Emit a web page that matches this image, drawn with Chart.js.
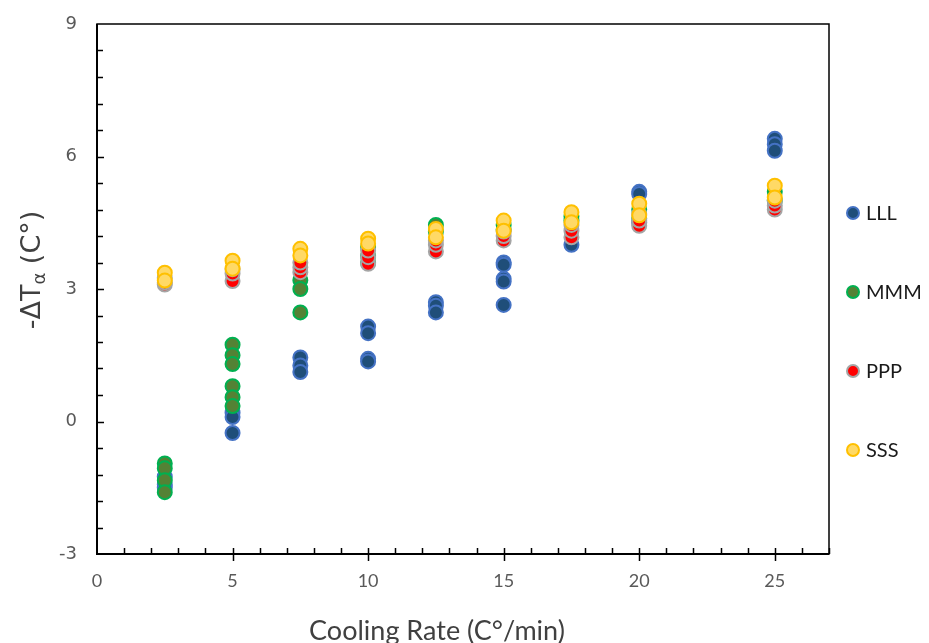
<!DOCTYPE html>
<html>
<head>
<meta charset="utf-8">
<title>Cooling rate scatter</title>
<script src="https://cdn.jsdelivr.net/npm/chart.js@4.4.0/dist/chart.umd.min.js"></script>
<style>
    html, body { margin: 0; padding: 0; background: #fff; }
    #chart { display: block; }
</style>
</head>
<body>
<canvas id="chart" width="929" height="643"></canvas>
<script>
// Values
const seriesNames = ['LLL', 'MMM', 'PPP', 'SSS'];

const lllX = [2.5, 2.5, 2.5, 5, 5, 5, 7.5, 7.5, 7.5, 10, 10, 10, 10, 12.5, 12.5, 12.5, 15, 15, 15, 15, 15, 17.5, 20, 20, 20, 25, 25, 25];
const lllY = [-1.25, -1.42, -1.5, 0.2, 0.1, -0.26, 1.45, 1.27, 1.12, 2.15, 2.0, 1.42, 1.36, 2.7, 2.62, 2.47, 3.6, 3.55, 3.23, 3.17, 2.64, 4.0, 5.2, 5.15, 4.5, 6.4, 6.28, 6.13];

const mmmX = [2.5, 2.5, 2.5, 2.5, 5, 5, 5, 5, 5, 5, 7.5, 7.5, 7.5, 10, 10, 10, 12.5, 12.5, 15, 15, 17.5, 17.5, 20, 20, 25, 25];
const mmmY = [-0.95, -1.06, -1.33, -1.6, 1.74, 1.5, 1.3, 0.8, 0.55, 0.35, 3.2, 3.0, 2.47, 3.6, 3.75, 3.95, 4.45, 4.3, 4.45, 4.35, 4.65, 4.55, 4.8, 4.6, 5.2, 5.0];

const pppX = [2.5, 2.5, 2.5, 5, 5, 5, 7.5, 7.5, 7.5, 10, 10, 10, 12.5, 12.5, 12.5, 15, 15, 15, 17.5, 17.5, 17.5, 20, 20, 20, 25, 25, 25];
const pppY = [3.1, 3.15, 3.25, 3.18, 3.35, 3.45, 3.38, 3.49, 3.6, 3.57, 3.72, 3.87, 3.85, 4.0, 4.1, 4.1, 4.2, 4.3, 4.17, 4.32, 4.45, 4.43, 4.55, 4.7, 4.8, 4.89, 5.0];

const sssX = [2.5, 2.5, 5, 5, 7.5, 7.5, 10, 10, 12.5, 12.5, 15, 15, 17.5, 17.5, 20, 20, 25, 25];
const sssY = [3.37, 3.19, 3.64, 3.46, 3.91, 3.76, 4.14, 4.03, 4.36, 4.17, 4.55, 4.32, 4.74, 4.51, 4.93, 4.67, 5.34, 5.07];

const xTicks = [0, 5, 10, 15, 20, 25];
const yTicks = [-3, 0, 3, 6, 9];

function toPoints(xs, ys) {
    return xs.map((x, i) => ({ x: x, y: ys[i] }));
}

// Excel-like marker colours: fill / outline
const fills = ['#1F4E79', '#548235', '#FF0000', '#FFD966'];
const outlines = ['#4472C4', '#00B050', '#A5A5A5', '#FFC000'];
const allX = [lllX, mmmX, pppX, sssX];
const allY = [lllY, mmmY, pppY, sssY];

const datasets = seriesNames.map((name, i) => ({
    label: name,
    data: toPoints(allX[i], allY[i]),
    backgroundColor: fills[i],
    borderColor: outlines[i],
    borderWidth: 2,
    pointRadius: 7,
    pointHoverRadius: 7,
    order: seriesNames.length - i   // last series drawn on top
}));

// Frame, minor/major tick marks, axis titles, legend
const decorations = {
    id: 'decorations',
    afterDraw(chart) {
        const ctx = chart.ctx;
        const area = chart.chartArea;
        const xs = chart.scales.x;
        const ys = chart.scales.y;
        ctx.save();

        // plot frame
        ctx.strokeStyle = '#000';
        ctx.lineWidth = 1.5;
        ctx.strokeRect(area.left, area.top, area.right - area.left, area.bottom - area.top);
        ctx.lineWidth = 2;
        ctx.beginPath();
        ctx.moveTo(area.left, area.top);
        ctx.lineTo(area.left, area.bottom);
        ctx.lineTo(area.right, area.bottom);
        ctx.stroke();

        // x ticks: minor inside every 1, major crossing every 5
        ctx.lineWidth = 1.5;
        ctx.beginPath();
        for (let v = 1; v <= xs.max; v++) {
            const px = Math.round(xs.getPixelForValue(v)) + 0.5;
            const major = v % 5 === 0;
            ctx.moveTo(px, area.bottom - 6);
            ctx.lineTo(px, area.bottom + (major ? 7 : 0));
        }
        // y ticks: inside every 0.6
        for (let k = 1; k < 20; k++) {
            const v = ys.min + k * 0.6;
            const py = Math.round(ys.getPixelForValue(v)) + 0.5;
            const major = k % 5 === 0;
            ctx.moveTo(area.left, py);
            ctx.lineTo(area.left + (major ? 7 : 6), py);
        }
        ctx.stroke();

        // x axis title
        ctx.fillStyle = '#404040';
        ctx.font = '27px Lato';
        ctx.textAlign = 'center';
        ctx.textBaseline = 'middle';
        ctx.fillText('Cooling Rate (C°/min)', 437, 631);

        // y axis title: -ΔTα (C°)
        ctx.textAlign = 'left';
        ctx.translate(31, 270);
        ctx.rotate(-Math.PI / 2);
        ctx.textBaseline = 'alphabetic';
        const bigFont = '27px "DejaVu Sans"';
        const smallFont = '18px "DejaVu Sans"';
        ctx.font = bigFont;
        const w1 = ctx.measureText('-ΔT').width;
        const w3 = ctx.measureText(' (C°)').width;
        ctx.font = smallFont;
        const w2 = ctx.measureText('α').width;
        let tx = -(w1 + w2 + w3) / 2;
        ctx.font = bigFont;
        ctx.fillText('-ΔT', tx, 9);
        tx += w1;
        ctx.font = smallFont;
        ctx.fillText('α', tx, 14);
        tx += w2;
        ctx.font = bigFont;
        ctx.fillText(' (C°)', tx, 9);
        ctx.restore();

        // legend on the right
        ctx.save();
        chart.data.datasets.forEach((ds, i) => {
            const cy = 213 + 79 * i;
            ctx.beginPath();
            ctx.arc(853, cy, 6, 0, Math.PI * 2);
            ctx.fillStyle = ds.backgroundColor;
            ctx.fill();
            ctx.lineWidth = 2;
            ctx.strokeStyle = ds.borderColor;
            ctx.stroke();
            ctx.fillStyle = '#1a1a1a';
            ctx.font = '20px Lato';
            ctx.textBaseline = 'middle';
            ctx.fillText(ds.label, 866, cy + 1);
        });
        ctx.restore();
    }
};

new Chart(document.getElementById('chart'), {
    type: 'scatter',
    data: { datasets: datasets },
    options: {
        responsive: false,
        animation: false,
        devicePixelRatio: 1,
        layout: { padding: { top: 24, right: 100, left: 0, bottom: 0 } },
        plugins: {
            legend: { display: false },
            tooltip: { enabled: false }
        },
        scales: {
            x: {
                type: 'linear',
                min: 0,
                max: 27,
                grid: { display: false, drawTicks: false },
                border: { display: false },
                afterBuildTicks: function(scale) {
                    scale.ticks = xTicks.map(v => ({ value: v }));
                },
                afterFit: function(scale) {
                    scale.height = 89;
                    scale.paddingLeft = 0;
                    scale.paddingRight = 0;
                },
                ticks: {
                    padding: 16,
                    color: '#595959',
                    font: { family: 'Lato', size: 18 }
                }
            },
            y: {
                type: 'linear',
                min: -3,
                max: 9,
                grid: { display: false, drawTicks: false },
                border: { display: false },
                afterBuildTicks: function(scale) {
                    scale.ticks = yTicks.map(v => ({ value: v }));
                },
                afterFit: function(scale) {
                    scale.width = 97;
                    scale.paddingTop = 0;
                    scale.paddingBottom = 0;
                },
                ticks: {
                    padding: 20,
                    color: '#595959',
                    font: { family: 'DejaVu Sans', size: 18 }
                }
            }
        }
    },
    plugins: [decorations]
});
</script>
</body>
</html>
